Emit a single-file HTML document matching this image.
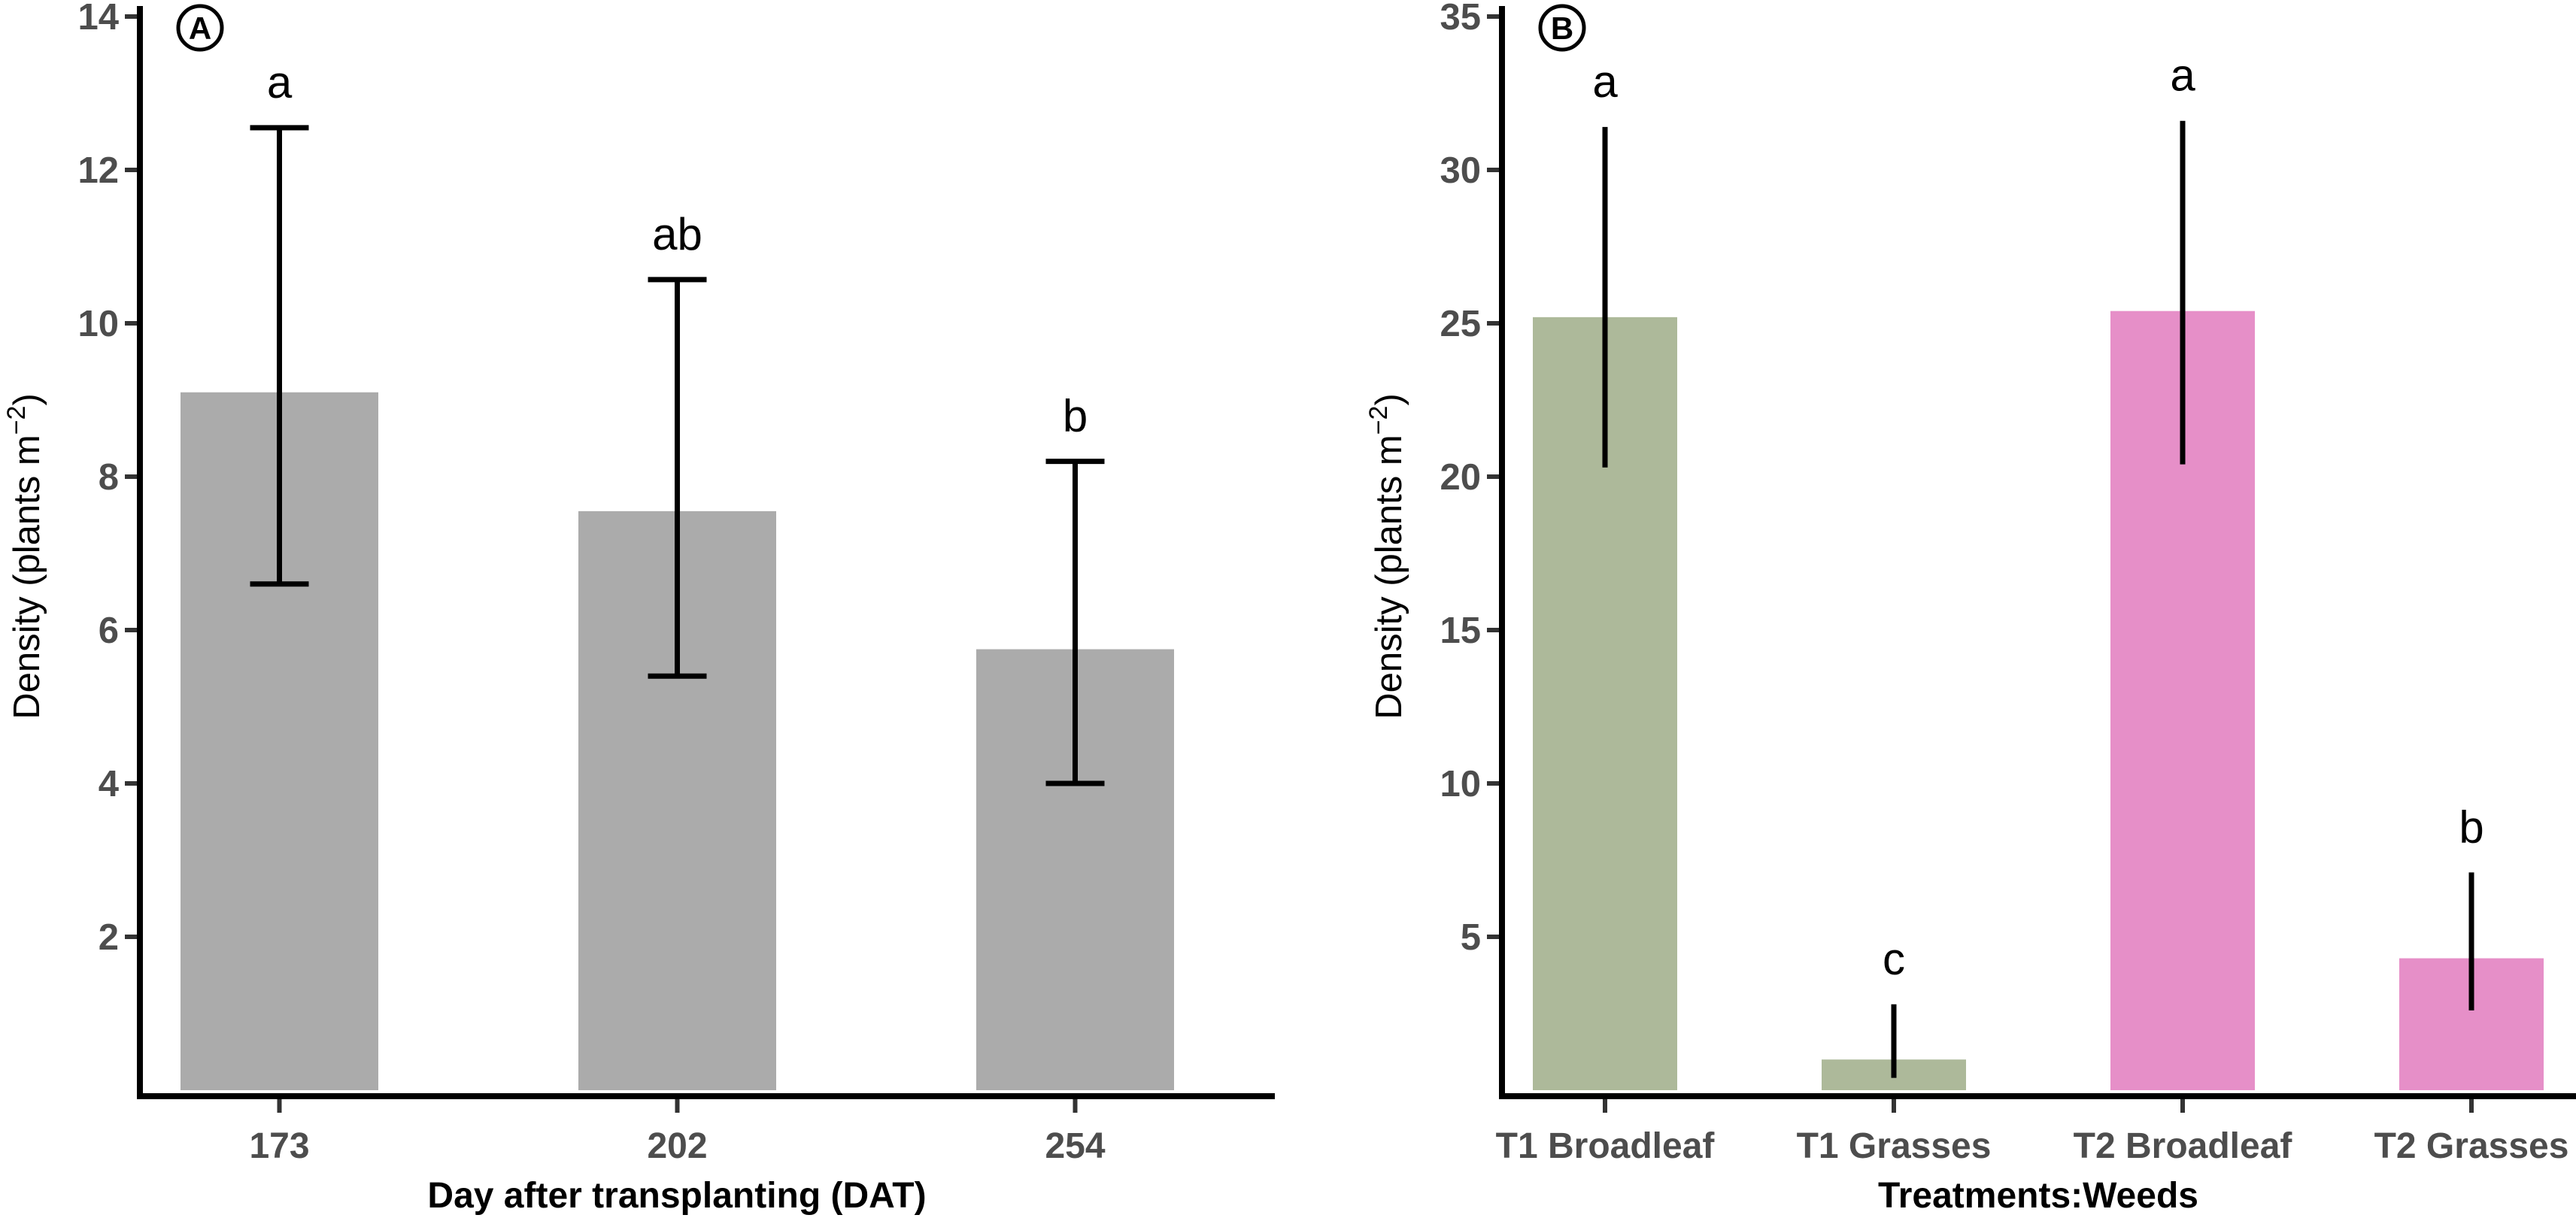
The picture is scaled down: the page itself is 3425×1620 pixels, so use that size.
<!DOCTYPE html>
<html><head><meta charset="utf-8"><style>
html,body{margin:0;padding:0;background:#fff;}
svg{display:block;}
text{font-family:"Liberation Sans Narrow","Liberation Sans",sans-serif;}
</style></head><body>
<svg id="chart" width="3425" height="1620" viewBox="0 0 3425 1620" xmlns="http://www.w3.org/2000/svg"></svg>
<script>
// Panel A data
const catsA = ["173","202","254"];
const valsA = [9.1, 7.55, 5.75];
const loA = [6.6, 5.4, 4.0];
const hiA = [12.55, 10.57, 8.2];
const letA = ["a","ab","b"];
const ticksA = [2,4,6,8,10,12,14];
// Panel B data
const catsB = ["T1 Broadleaf","T1 Grasses","T2 Broadleaf","T2 Grasses"];
const valsB = [25.2, 1.0, 25.4, 4.3];
const loB = [20.3, 0.4, 20.4, 2.6];
const hiB = [31.4, 2.8, 31.6, 7.1];
const letB = ["a","c","a","b"];
const ticksB = [5,10,15,20,25,30,35];
const colB = ["#adb99a","#adb99a","#e68fc8","#e68fc8"];

const svg = document.getElementById('chart');
const NS = "http://www.w3.org/2000/svg";
function mk(tag, attrs, parent){const e=document.createElementNS(NS,tag);for(const k in attrs)e.setAttribute(k,attrs[k]);(parent||svg).appendChild(e);return e;}

function panel(cfg){
  const g = mk('g',{});
  
  
  const y0=1450, ytop=22;
  const yS = v => y0 - (v/cfg.ymax)*(y0-ytop);
  const xS = i => cfg.x0 + cfg.step*(i+0.5);
  cfg.vals.forEach((v,i)=>{
    const r = mk('rect',{x:xS(i)-cfg.bw/2,y:yS(v),width:cfg.bw,height:y0-yS(v),fill:cfg.colors[i]},g);
    
    
    const e = mk('line',{x1:xS(i),x2:xS(i),y1:yS(cfg.lo[i]),y2:yS(cfg.hi[i]),stroke:'#000','stroke-width':7},g);
    
    
    if(cfg.caps){
      mk('line',{x1:xS(i)-39,x2:xS(i)+39,y1:yS(cfg.lo[i]),y2:yS(cfg.lo[i]),stroke:'#000','stroke-width':7},g);
      mk('line',{x1:xS(i)-39,x2:xS(i)+39,y1:yS(cfg.hi[i]),y2:yS(cfg.hi[i]),stroke:'#000','stroke-width':7},g);
    }
    const t = mk('text',{x:xS(i),y:yS(cfg.hi[i])-40,'text-anchor':'middle','font-size':60,fill:'#000','font-family':'Liberation Sans, sans-serif'},g);
    t.textContent = cfg.letters[i];
    
    
    mk('line',{x1:xS(i),x2:xS(i),y1:1462,y2:1480,stroke:'#333','stroke-width':6},g);
    const xl = mk('text',{x:xS(i),y:1540,'text-anchor':'middle','font-size':48,'font-weight':'bold',fill:'#4d4d4d'},g);
    xl.textContent = cfg.cats[i];
    
    
  });
  cfg.ticks.forEach(v=>{
    mk('line',{x1:cfg.ax-20,x2:cfg.ax,y1:yS(v),y2:yS(v),stroke:'#333','stroke-width':6},g);
    const t = mk('text',{x:cfg.ax-28,y:yS(v)+17,'text-anchor':'end','font-size':49,'font-weight':'bold',fill:'#4d4d4d'},g);
    t.textContent = v;
    
    
  });
  const ya = mk('line',{x1:cfg.ax,x2:cfg.ax,y1:8,y2:1462,stroke:'#000','stroke-width':8},g);
  
  
  const xa = mk('line',{x1:cfg.ax-4,x2:cfg.xend,y1:1458,y2:1458,stroke:'#000','stroke-width':8},g);
  
  
  const yt = mk('text',{x:0,y:0,'text-anchor':'middle','font-size':49,fill:'#000','font-family':'Liberation Sans, sans-serif',transform:`translate(${cfg.ax-134},740) rotate(-90)`},g);
  yt.innerHTML = 'Density (plants m<tspan baseline-shift="super" font-size="34">−2</tspan>)';
  
  
  const xt = mk('text',{x:cfg.titleX,y:1606,'text-anchor':'middle','font-size':48,'font-weight':'bold',fill:'#000'},g);
  xt.textContent = cfg.xtitle;
  
  
  mk('circle',{cx:cfg.ax+80,cy:37,r:29,fill:'none',stroke:'#000','stroke-width':5},g);
  const pl = mk('text',{x:cfg.ax+80,y:52,'text-anchor':'middle','font-size':42,'font-weight':'bold',fill:'#000','font-family':'Liberation Sans, sans-serif'},g);
  pl.textContent = cfg.label;
  
  
}

panel({name:'panel-a',cats:catsA,vals:valsA,lo:loA,hi:hiA,letters:letA,ticks:ticksA,ymax:14,
  x0:107,step:529,bw:263,ax:186,xend:1695,colors:['#ababab','#ababab','#ababab'],caps:true,
  xtitle:'Day after transplanting (DAT)',titleX:900,label:'A'});
panel({name:'panel-b',cats:catsB,vals:valsB,lo:loB,hi:hiB,letters:letB,ticks:ticksB,ymax:35,
  x0:1942,step:384,bw:192,ax:1997,xend:3425,colors:colB,caps:false,
  xtitle:'Treatments:Weeds',titleX:2710,label:'B'});
</script>
</body></html>
